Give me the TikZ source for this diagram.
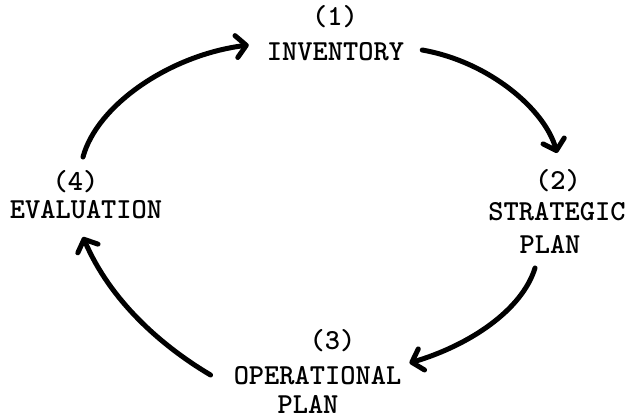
\documentclass[tikz,border=0pt]{standalone}
\usetikzlibrary{arrows.meta,calc}
\begin{document}
\begin{tikzpicture}[x=1pt,y=-1pt,
  lbl/.style={font=\ttfamily\bfseries\fontsize{29}{33}\selectfont, inner sep=0pt, anchor=base},
  flow/.style={line width=5pt, line cap=round, line join=round,
    -{Straight Barb[length=10pt,width=22pt,line cap=round,line join=round]}}]
  \useasboundingbox (0,0) rectangle (631,418);

  % stage labels
  \node[lbl] (s1num) at (335,25)  {(1)};
  \node[lbl] (inv)   at (335.5,60) {INVENTORY};
  \node[lbl] (s2num) at (558,189) {(2)};
  \node[lbl] (strat) at (557,220) {STRATEGIC};
  \node[lbl] (plan2) at (550,253) {PLAN};
  \node[lbl] (s3num) at (332.5,349) {(3)};
  \node[lbl] (oper)  at (317.5,384) {OPERATIONAL};
  \node[lbl] (plan3) at (308,413) {PLAN};
  \node[lbl] (s4num) at (75.5,190) {(4)};
  \node[lbl] (eval)  at (86,218) {EVALUATION};

  % cycle arrows
  \draw[flow] ($(inv.base east)+(18,-10)$) .. controls (490,62) and (545,110) .. ($(s2num.base)+(-1,-36)$);
  \draw[flow] ($(plan2.base)+(-15,15)$) .. controls (522,310) and (470,345) .. ($(oper.base east)+(8,-21)$);
  \draw[flow] ($(oper.base west)+(-23,-9)$) .. controls (160,345) and (110,300) .. ($(eval.base)+(-3,19)$);
  \draw[flow] ($(s4num.base)+(7.5,-33)$) .. controls (97,105) and (170,55) .. ($(inv.base west)+(-18,-15)$);
\end{tikzpicture}
\end{document}
